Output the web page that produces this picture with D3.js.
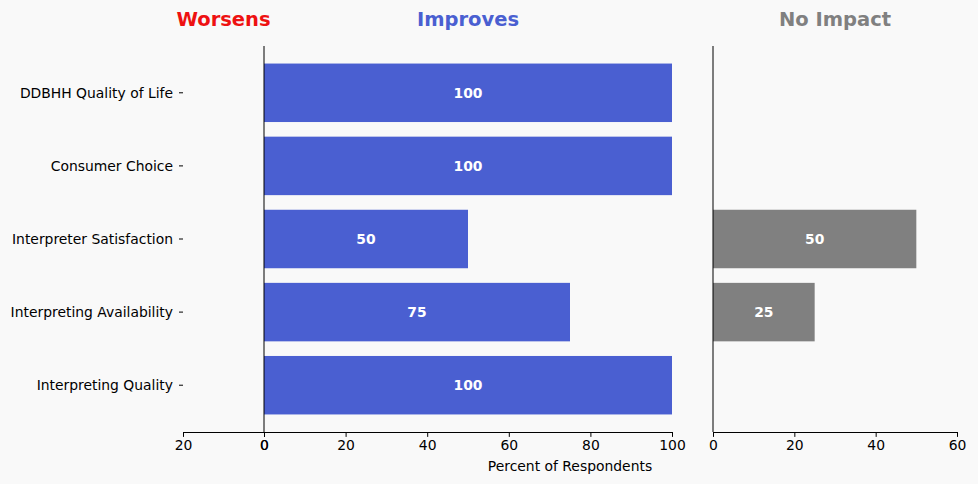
<!DOCTYPE html>
<html><head><meta charset="utf-8">
<script src="https://cdn.jsdelivr.net/npm/d3@7"></script>
<style>body{margin:0;background:#f9f9f9;} svg{display:block;font-family:"DejaVu Sans",sans-serif;}</style>
</head><body>
<svg id="c" width="978" height="484"></svg>
<script>
const categories = ["DDBHH Quality of Life","Consumer Choice","Interpreter Satisfaction","Interpreting Availability","Interpreting Quality"];
const worsens = [0,0,0,0,0];
const improves = [100,100,50,75,100];
const noImpact = [0,0,50,25,0];
const worsensTicks = [20,0];
const improvesTicks = [0,20,40,60,80,100];
const noImpactTicks = [0,20,40,60];

(function(){
const svg = d3.select("#c");
svg.append("rect").attr("width",978).attr("height",484).attr("fill","#f9f9f9");
const plotTop = 46, plotBottom = 432;
const fs = "13.9px";
const y = d3.scaleLinear().domain([-0.64, 4.64]).range([plotTop, plotBottom]);
const bh = y(0.4) - y(-0.4);

const xW = d3.scaleLinear().domain([20,0]).range([183,264]);
const xI = d3.scaleLinear().domain([0,100]).range([264,672]);
const xN = d3.scaleLinear().domain([0,60]).range([713,957]);
const blue = "#4a5fd1", gray = "#808080";

function panel(x, vals, ticks, color, spine) {
  const g = svg.append("g");
  vals.forEach((v,i)=>{
    if (v<=0) return;
    g.append("rect").attr("x", x(0)).attr("y", y(i)-bh/2).attr("width", x(v)-x(0)).attr("height", bh).attr("fill", color);
    g.append("text").attr("x", (x(0)+x(v))/2).attr("y", y(i)).attr("dy","0.35em")
      .attr("text-anchor","middle").attr("fill","white").attr("font-weight","bold").attr("font-size",fs).text(v);
  });
  const ax = d3.axisBottom(x).tickValues(ticks).tickSize(4.9).tickPadding(3.5).tickSizeOuter(0);
  const ag = svg.append("g").attr("transform",`translate(0,${plotBottom})`).call(ax);
  ag.selectAll("text").attr("font-size",fs).attr("fill","#000").attr("font-family","DejaVu Sans");
  ag.selectAll("line,path").attr("stroke","#000");
  if (spine) svg.append("line").attr("x1",x(0)).attr("x2",x(0)).attr("y1",plotTop).attr("y2",plotBottom).attr("stroke","#000");
}
panel(xW, worsens, worsensTicks, "#e41a1c", false);
panel(xI, improves, improvesTicks, blue, true);
panel(xN, noImpact, noImpactTicks, gray, true);

const yg = svg.append("g");
categories.forEach((c,i)=>{
  yg.append("line").attr("x1",179).attr("x2",183).attr("y1",y(i)).attr("y2",y(i)).attr("stroke","#000");
  yg.append("text").attr("x",173).attr("y",y(i)).attr("dy","0.35em").attr("text-anchor","end").attr("font-size",fs).attr("fill","#000").text(c);
});

const titles = [["Worsens",(183+264)/2,"#ee1111"],["Improves",(264+672)/2,blue],["No Impact",(713+957)/2,gray]];
titles.forEach(t=>{
  svg.append("text").attr("x",t[1]).attr("y",26).attr("text-anchor","middle").attr("font-weight","bold").attr("font-size","19.5px").attr("fill",t[2]).text(t[0]);
});
svg.append("text").attr("x",(183+957)/2).attr("y",471).attr("text-anchor","middle").attr("font-size",fs).attr("fill","#000").text("Percent of Respondents");
})();
</script>
</body></html>
